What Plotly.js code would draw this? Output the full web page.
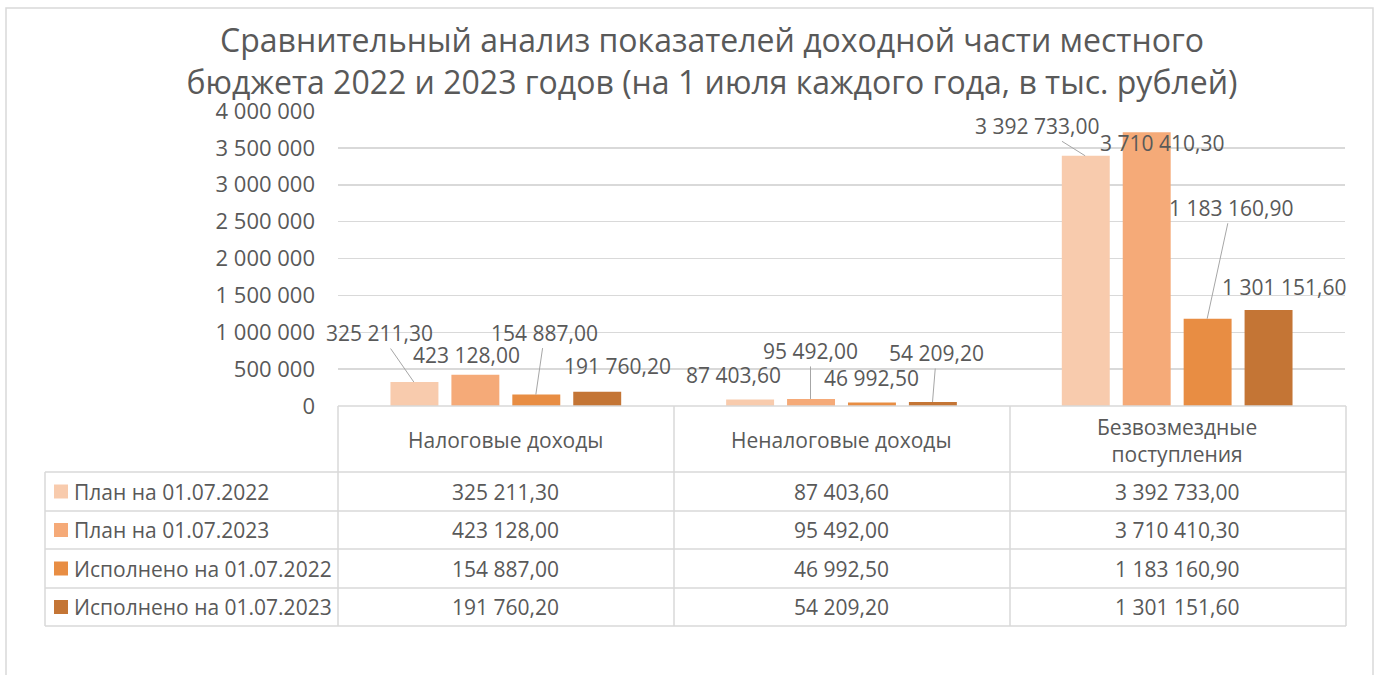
<!DOCTYPE html>
<html>
<head>
<meta charset="utf-8">
<script src="https://cdn.plot.ly/plotly-3.0.1.min.js"></script>
<style>html,body{margin:0;padding:0;background:#fff;}#chart{width:1380px;height:675px;}</style>
</head>
<body>
<div id="chart"></div>
<script>
// ---- data ----
var categories = ['Налоговые доходы', 'Неналоговые доходы', 'Безвозмездные поступления'];
var categoryHeaders = ['Налоговые доходы', 'Неналоговые доходы', 'Безвозмездные<br>поступления'];
var seriesNames = ['План на 01.07.2022', 'План на 01.07.2023', 'Исполнено на 01.07.2022', 'Исполнено на 01.07.2023'];
var plan2022 = [325211.30, 87403.60, 3392733.00];
var plan2023 = [423128.00, 95492.00, 3710410.30];
var done2022 = [154887.00, 46992.50, 1183160.90];
var done2023 = [191760.20, 54209.20, 1301151.60];
var yTickVals = [0, 500000, 1000000, 1500000, 2000000, 2500000, 3000000, 3500000, 4000000];

var seriesValues = [plan2022, plan2023, done2022, done2023];
var colors = ['#F8CBAD', '#F5AA78', '#E88D43', '#C47535'];
var textColor = '#595959';
var gridColor = '#D9D9D9';
var FONT = 'Open Sans, sans-serif';

// ---- geometry (pixels) ----
var W = 1380, H = 675;
var PL = 338, PR = 1345, PT = 111, PB = 406;
function px2x(px) { return (px - PL) / (PR - PL); }
function px2y(py) { return (PB - py) / (PB - PT); }

function fmt(v) {
  var s = v.toFixed(2).split('.');
  var intPart = s[0].replace(/\B(?=(\d{3})+(?!\d))/g, ' ');
  return intPart + ',' + s[1];
}

var traces = seriesNames.map(function (name, i) {
  return {
    type: 'bar', name: name, x: categories, y: seriesValues[i],
    marker: { color: colors[i] }, showlegend: false, hoverinfo: 'x+y+name'
  };
});

// bar offsets inside a group (px) and label offsets
var barShift = [-92, -31, 30, 91];
// label offsets [series][category] -> [ax, ay, leader]
var labelOff = [
  [[-34, -49, true], [-16, -25, false], [-48, -30, true]],
  [[-8, -20, false], [0, -48, true], [16, 11, false]],
  [[9, -62, true], [0, -25, false], [24, -111, true]],
  [[21, -26, false], [4, -49, true], [16, -23, false]]
];

var annotations = [];
seriesValues.forEach(function (vals, i) {
  vals.forEach(function (v, j) {
    var o = labelOff[i][j];
    annotations.push({
      x: categories[j], y: v, xref: 'x', yref: 'y', xshift: barShift[i],
      text: fmt(v), showarrow: true, arrowhead: 0, arrowwidth: 1,
      arrowcolor: o[2] ? '#A6A6A6' : 'rgba(0,0,0,0)', standoff: 0,
      ax: o[0], ay: o[1], font: { family: FONT, size: 21, color: textColor }
    });
  });
});

// table geometry
var colEdges = [338, 674, 1010, 1346];
var rowEdges = [472, 511, 549, 588, 626];
var shapes = [];
function hline(x0, x1, y) {
  shapes.push({ type: 'line', xref: 'paper', yref: 'paper', x0: px2x(x0), x1: px2x(x1), y0: px2y(y), y1: px2y(y), line: { color: gridColor, width: 1.5 } });
}
function vline(x, y0, y1) {
  shapes.push({ type: 'line', xref: 'paper', yref: 'paper', x0: px2x(x), x1: px2x(x), y0: px2y(y0), y1: px2y(y1), line: { color: gridColor, width: 1.5 } });
}
// outer chart border
shapes.push({ type: 'rect', xref: 'paper', yref: 'paper', x0: px2x(6), x1: px2x(1373), y0: px2y(8), y1: px2y(720), line: { color: gridColor, width: 1.5 }, fillcolor: 'rgba(0,0,0,0)', layer: 'below' });
hline(338, 1346, 406);
rowEdges.forEach(function (y) { hline(45, 1346, y); });
colEdges.forEach(function (x) { vline(x, 406, 626); });
vline(45, 472, 626);

// header labels
categories.forEach(function (c, j) {
  annotations.push({
    x: c, xref: 'x', y: px2y(440), yref: 'paper', text: categoryHeaders[j], showarrow: false,
    xanchor: 'center', yanchor: 'middle', font: { family: FONT, size: 21, color: textColor }
  });
});
// rows
seriesNames.forEach(function (name, i) {
  var yc = (rowEdges[i] + rowEdges[i + 1]) / 2;
  shapes.push({ type: 'rect', xref: 'paper', yref: 'paper', x0: px2x(54), x1: px2x(68), y0: px2y(yc - 7), y1: px2y(yc + 7), line: { width: 0 }, fillcolor: colors[i] });
  annotations.push({
    x: px2x(72), xref: 'paper', y: px2y(yc), yref: 'paper', text: name, showarrow: false,
    xanchor: 'left', yanchor: 'middle', font: { family: FONT, size: 21, color: textColor }
  });
  seriesValues[i].forEach(function (v, j) {
    annotations.push({
      x: categories[j], xref: 'x', y: px2y(yc), yref: 'paper', text: fmt(v), showarrow: false,
      xanchor: 'center', yanchor: 'middle', font: { family: FONT, size: 21, color: textColor }
    });
  });
});

var layout = {
  width: W, height: H,
  paper_bgcolor: '#ffffff', plot_bgcolor: '#ffffff',
  margin: { l: PL, r: W - PR, t: PT, b: H - PB, pad: 0 },
  separators: ', ',
  title: {
    text: 'Сравнительный анализ показателей доходной части местного<br>бюджета 2022 и 2023 годов (на 1 июля каждого года, в тыс. рублей)',
    font: { family: FONT, size: 32, color: textColor },
    x: 712 / W, xref: 'container', xanchor: 'center',
    y: 1 - 52 / H, yref: 'container', yanchor: 'top'
  },
  barmode: 'group', bargap: 0.274, bargroupgap: 0.213,
  xaxis: { type: 'category', range: [-0.5, 2.5], showticklabels: false, showgrid: false, zeroline: false, showline: false, ticks: '' },
  yaxis: {
    range: [0, 4000000], tickvals: yTickVals, tickformat: ',d', showgrid: true, gridcolor: gridColor, gridwidth: 1.5,
    zeroline: false, showline: false, ticks: '', ticklabelstandoff: 22,
    tickfont: { family: FONT, size: 22, color: textColor }
  },
  shapes: shapes,
  annotations: annotations
};

Plotly.newPlot('chart', traces, layout, { displayModeBar: false, staticPlot: true });
</script>
</body>
</html>
